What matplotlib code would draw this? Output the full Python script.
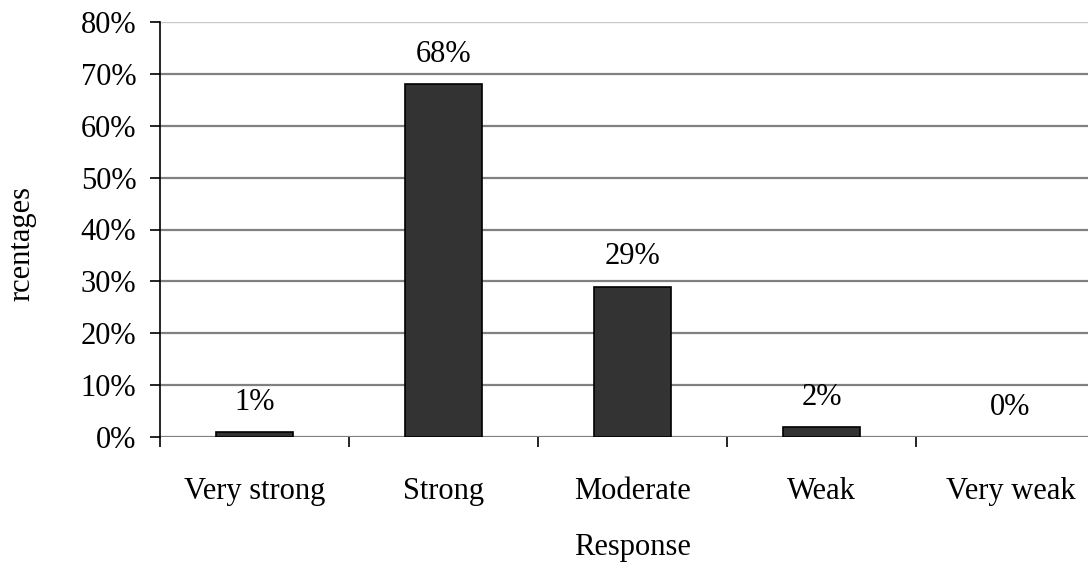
import matplotlib.pyplot as plt
import numpy as np

plt.rcParams['font.family'] = ['Liberation Serif', 'DejaVu Serif']
plt.rcParams['font.size'] = 22

categories = ['Very strong', 'Strong', 'Moderate', 'Weak', 'Very weak']
percent = [1, 68, 29, 2, 0]
yticks = [0, 10, 20, 30, 40, 50, 60, 70, 80]

fig = plt.figure(figsize=(10.88, 5.62), dpi=100)
ax = fig.add_axes([160/1088, 125/562, 945/1088, 415/562])

x = np.arange(len(categories))
ax.set_axisbelow(True)
for v in yticks[:-1]:
    ax.axhline(v, color='#808080', lw=1.6, zorder=0)
ax.axhline(80, color='#c8c8c8', lw=1.0, zorder=0)

# zero-height bars get no outline
edges = [1.2 if v > 0 else 0 for v in percent]
ax.bar(x, percent, width=0.41, color='#333333', edgecolor='black', linewidth=edges, zorder=2)
for xi, v in zip(x, percent):
    ax.text(xi, v + 5.7, f'{v}%', ha='center', va='center')

ax.set_xlim(-0.5, len(categories) - 0.5)
ax.set_ylim(0, 80)
ax.set_yticks(yticks)
ax.set_yticklabels([f'{v}%' for v in yticks])
ax.set_xticks(x)
ax.set_xticklabels(categories)
ax.set_xticks(np.arange(-0.5, len(categories)), minor=True)
ax.tick_params(axis='x', which='major', length=0, pad=29)
ax.tick_params(axis='x', which='minor', length=7, width=1.2, color='black')
ax.tick_params(axis='y', length=7, width=1.2, pad=10)

for side in ['top', 'right', 'bottom']:
    ax.spines[side].set_visible(False)
ax.spines['left'].set_linewidth(1.2)

ax.set_xlabel('Response', labelpad=19)
fig.text(22/1088, 1 - 244/562, 'rcentages', rotation=90, ha='center', va='center')

fig.savefig('out.png', dpi=100, facecolor='white')
